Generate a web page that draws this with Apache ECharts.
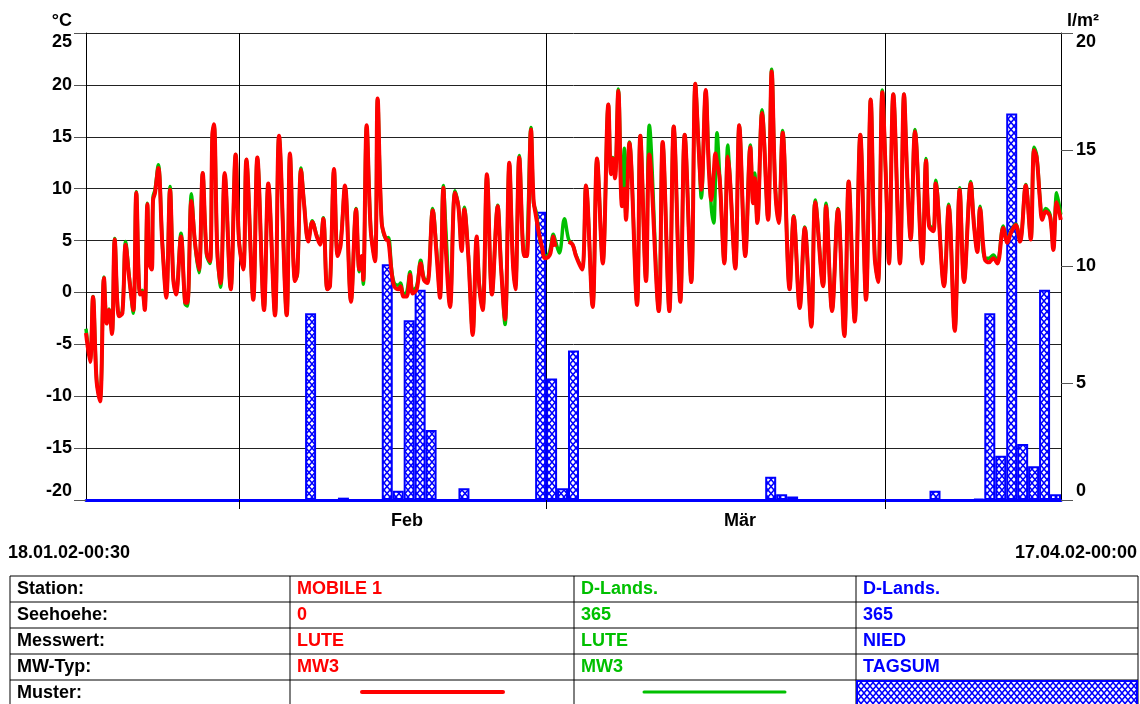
<!DOCTYPE html>
<html><head><meta charset="utf-8">
<script src="https://cdn.jsdelivr.net/npm/echarts@6/dist/echarts.min.js"></script>
<style>html,body{margin:0;padding:0;background:#fff}#c{width:1140px;height:704px}</style>
</head><body><div id="c"></div><script>
// ---- data (x = days since 18.01.02-00:30) ----
const startLabel = '18.01.02-00:30';
const endLabel = '17.04.02-00:00';
const tempDays = [0.00,0.37,0.64,0.97,1.28,1.64,1.89,2.10,2.37,2.62,3.01,3.32,3.62,3.93,4.32,4.59,4.93,5.14,5.36,5.60,5.78,6.00,6.12,6.30,6.60,6.96,7.33,7.67,7.97,8.22,8.67,9.04,9.25,9.62,9.95,10.31,10.65,11.01,11.32,11.53,11.68,11.99,12.29,12.66,13.21,13.66,13.97,14.36,14.64,15.27,15.64,16.25,16.64,17.25,17.62,18.32,18.62,19.08,19.29,19.63,19.90,20.29,20.66,21.06,21.36,21.66,22.03,22.27,22.64,22.97,23.25,23.64,24.19,24.65,24.95,25.17,25.31,25.62,25.99,26.38,26.62,26.99,27.39,27.60,27.90,28.14,28.51,28.72,28.97,29.27,29.58,29.82,30.19,30.55,30.85,31.16,31.65,32.01,32.31,32.62,32.85,33.23,33.68,33.99,34.29,34.53,34.90,35.30,35.66,35.90,36.21,36.60,37.06,37.58,37.88,38.25,38.64,38.95,39.19,39.55,40.01,40.23,40.62,40.85,41.08,41.38,41.60,41.90,42.20,42.40,42.66,42.84,43.21,43.67,44.06,44.42,44.73,45.28,45.64,46.25,46.65,47.17,47.68,47.92,48.08,48.29,48.59,48.93,49.14,49.29,49.60,50.30,50.60,51.12,51.42,52.28,52.64,53.25,53.65,54.25,54.65,55.25,55.62,55.93,56.17,56.57,56.84,57.08,57.30,57.45,57.60,57.85,58.27,58.58,58.76,59.27,59.63,60.18,60.64,60.89,61.04,61.28,61.71,62.26,62.59,62.92,63.23,63.59,64.23,64.60,65.15,65.61,66.21,66.57,67.28,67.55,68.10,68.64,69.22,69.62,70.17,70.68,71.20,71.63,71.99,72.30,72.69,73.00,73.30,73.69,74.30,74.67,74.97,75.28,75.67,76.34,76.68,76.95,77.35,77.56,78.32,78.75,79.30,79.75,80.15,80.76,81.06,81.36,81.61,82.04,82.43,82.82,83.19,83.73,84.10,84.41,84.86,85.26,85.78,86.24,86.54,86.78,87.08,87.29,87.60,88.00,88.30,88.61,88.98];
const mobileTemps = [-3.9,-6.7,-0.45,-8.6,-10.5,1.4,-3.0,-1.7,-4.0,5.1,-2.3,-2.0,4.6,1.5,-1.7,9.6,-0.2,0.0,-1.7,8.5,2.8,2.2,8.9,9.6,12.0,4.8,-0.5,9.9,1.2,-0.2,5.4,-0.9,-1.0,8.8,4.8,2.2,11.5,3.8,3.0,15.2,16.2,3.8,0.9,11.5,0.3,13.3,4.9,2.2,12.8,-0.7,13.0,-1.7,10.5,-2.2,15.1,-2.2,13.4,1.1,1.9,11.8,8.6,4.9,6.8,5.4,4.6,7.1,0.3,0.6,11.9,3.5,4.6,10.3,-0.9,8.0,2.2,3.5,1.2,16.1,6.0,3.0,18.7,6.7,5.1,5.0,1.9,0.6,0.3,0.6,-0.4,-0.4,1.7,-0.1,0.3,2.8,1.2,0.9,7.9,3.5,-0.5,10.1,4.0,-1.4,9.6,8.3,4.0,8.0,3.5,-4.1,5.4,0.6,-1.7,11.4,-0.2,8.3,2.5,-2.6,12.5,3.2,0.3,13.0,3.5,3.5,15.7,9.0,7.3,5.5,4.5,3.3,3.4,3.8,5.4,4.4,null,null,4.9,4.6,3.5,2.2,10.3,-1.4,12.9,2.8,18.1,11.4,12.9,11.0,19.4,8.3,10.0,7.0,14.4,-1.2,15.1,1.1,13.3,-1.8,14.5,-1.8,16.0,-0.9,15.2,1.0,20.1,13.8,9.9,19.5,12.2,8.9,11.5,13.4,12.5,10.9,2.8,13.1,11.3,2.3,16.1,3.5,14.0,8.6,11.0,6.7,17.3,7.0,21.3,9.9,6.7,15.4,0.3,7.3,-1.5,6.2,-3.3,8.7,0.6,8.3,-1.8,8.0,-4.2,10.7,-2.8,15.2,-0.7,18.6,3.5,1.0,19.3,11.5,2.8,19.1,2.8,19.1,10.9,5.1,15.5,2.8,12.7,6.4,5.9,10.5,0.6,8.3,-3.7,9.9,1.0,10.5,6.4,3.9,8.1,3.2,2.9,3.3,2.8,6.2,4.8,5.7,6.5,4.9,10.3,5.1,13.7,13.0,8.9,7.0,7.8,7.3,4.1,8.7,7.0];
const landsTemps = [-3.5,-6.5,-0.4,-8.4,-10.3,1.5,-2.8,-1.6,-3.9,5.2,-2.2,-1.8,4.9,1.7,-2.0,9.7,-0.1,0.2,-1.5,8.6,3.0,2.4,9.2,9.9,12.3,4.9,-0.3,10.2,1.4,-0.1,5.7,-1.1,-1.3,9.5,4.7,1.9,11.5,3.6,2.8,15.0,16.1,3.9,0.5,11.4,0.3,13.3,5.0,2.3,12.8,-0.6,13.0,-1.6,10.4,-2.1,15.0,-2.1,13.3,1.2,1.7,12.0,8.7,5.0,6.9,5.5,4.7,7.2,0.3,0.7,11.8,3.6,4.9,10.2,-0.8,8.1,2.0,3.3,0.8,16.0,6.2,3.1,18.6,6.8,5.2,5.3,2.2,0.9,0.7,0.9,-0.1,0.0,2.0,0.2,0.6,3.1,1.4,1.1,8.1,4.0,-0.3,10.3,6.0,-1.2,9.8,8.4,4.3,8.2,3.6,-3.9,5.3,0.8,-1.6,11.3,-0.1,8.4,2.8,-3.1,12.4,3.6,0.5,13.2,3.5,3.6,15.9,8.6,7.8,5.4,4.4,3.5,3.6,4.3,5.6,5.0,3.8,7.1,5.1,4.6,3.6,2.3,10.3,-1.3,12.9,2.9,18.1,11.8,13.0,11.4,19.6,8.6,13.9,7.4,14.5,-1.1,15.1,1.2,16.1,-1.7,14.4,-1.7,16.0,-0.8,15.2,1.1,20.1,14.0,9.1,19.4,13.0,8.2,6.7,10.5,15.4,11.0,2.9,14.2,11.5,2.4,16.1,3.6,14.2,8.8,11.5,6.8,17.6,7.1,21.5,10.1,6.9,15.6,0.4,7.4,-1.4,6.3,-3.2,8.9,0.7,8.6,-1.7,8.1,-4.1,10.7,-2.7,15.2,-0.6,18.6,3.7,1.1,19.5,11.6,2.9,19.1,2.9,19.1,11.0,5.2,15.7,2.9,12.9,6.6,6.1,10.8,0.7,8.5,-3.6,10.1,1.1,10.7,6.6,4.0,8.3,3.3,3.3,3.6,3.0,6.4,5.0,5.8,6.6,5.0,10.4,5.2,14.0,13.2,9.1,7.3,8.1,7.5,4.3,9.6,7.5];
const precipDays = [20,23,27,28,29,30,31,34,41,42,43,44,62,63,64,77,81,82,83,84,85,86,87,88];
const precipValues = [8.0,0.1,10.1,0.4,7.7,9.0,3.0,0.5,12.35,5.2,0.5,6.4,1.0,0.25,0.15,0.4,0.05,8.0,1.9,16.55,2.4,1.45,9.0,0.25];
const monthStarts = [14, 42, 73];
const monthLabelDays = [29.3, 59.7];
const monthNames = ['Feb', 'Mär'];
const tableRows = [
  ['Station:', 'MOBILE 1', 'D-Lands.', 'D-Lands.'],
  ['Seehoehe:', '0', '365', '365'],
  ['Messwert:', 'LUTE', 'LUTE', 'NIED'],
  ['MW-Typ:', 'MW3', 'MW3', 'TAGSUM'],
  ['Muster:', '', '', '']
];

const RED = '#ff0000', GREEN = '#00c000', BLUE = '#0000ff';
const FONT = '"Liberation Sans", Arial, sans-serif';
const FS = 18;

function hatchCanvas() {
  const w = 6, h = 7;
  const c = document.createElement('canvas');
  c.width = w; c.height = h;
  const g = c.getContext('2d');
  g.fillStyle = '#ffffff'; g.fillRect(0, 0, w, h);
  g.strokeStyle = BLUE; g.lineWidth = 1.5;
  g.beginPath();
  g.moveTo(-w / 6, -h / 6); g.lineTo(w + w / 6, h + h / 6);
  g.moveTo(w + w / 6, -h / 6); g.lineTo(-w / 6, h + h / 6);
  g.stroke();
  return c;
}
const hatch = { image: hatchCanvas(), repeat: 'repeat' };

const zip = (xs, ys) => xs.map((x, i) => [x, ys[i]]);

// ---- table graphics ----
const colX = [10, 290, 574, 856, 1138];
const rowY = [576, 602, 628, 654, 680, 706];
const colColors = ['#000000', RED, GREEN, BLUE];
const graphics = [];
for (let r = 0; r < 5; r++) {
  graphics.push({ type: 'line', shape: { x1: colX[0], y1: rowY[r], x2: colX[4], y2: rowY[r] }, style: { stroke: '#000', lineWidth: 1 } });
}
colX.forEach(x => graphics.push({ type: 'line', shape: { x1: x, y1: rowY[0], x2: x, y2: 704 }, style: { stroke: '#000', lineWidth: 1 } }));
tableRows.forEach((row, r) => {
  row.forEach((txt, c) => {
    if (!txt) return;
    graphics.push({ type: 'text', x: colX[c] + 7, y: (rowY[r] + rowY[r + 1]) / 2 + 0.5,
      style: { text: txt, fill: colColors[c], font: 'bold ' + FS + 'px ' + FONT, align: 'left', verticalAlign: 'middle' } });
  });
});
const musterY = (rowY[4] + rowY[5]) / 2 - 1;
graphics.push({ type: 'line', shape: { x1: 362, y1: musterY, x2: 503, y2: musterY }, style: { stroke: RED, lineWidth: 4, lineCap: 'round' } });
graphics.push({ type: 'line', shape: { x1: 644, y1: musterY, x2: 785, y2: musterY }, style: { stroke: GREEN, lineWidth: 3, lineCap: 'round' } });
graphics.push({ type: 'rect', shape: { x: colX[3] + 1, y: rowY[4] + 1, width: colX[4] - colX[3] - 2, height: 30 }, style: { fill: hatch, stroke: BLUE, lineWidth: 2 } });
graphics.push({ type: 'text', x: 8, y: 553, style: { text: startLabel, fill: '#000', font: 'bold ' + FS + 'px ' + FONT, align: 'left', verticalAlign: 'middle' } });
graphics.push({ type: 'text', x: 1137, y: 553, style: { text: endLabel, fill: '#000', font: 'bold ' + FS + 'px ' + FONT, align: 'right', verticalAlign: 'middle' } });

const labelStyle = { color: '#000', fontWeight: 'bold', fontSize: FS, fontFamily: FONT };

const chart = echarts.init(document.getElementById('c'), null, { renderer: 'canvas' });
chart.setOption({
  animation: false,
  backgroundColor: '#fff',
  grid: { left: 86, right: 79, top: 33, bottom: 204, containLabel: false },
  xAxis: {
    type: 'value', min: 0, max: 89,
    axisLine: { show: true, onZero: false, lineStyle: { color: BLUE, width: 3 } },
    axisTick: { show: true, customValues: monthStarts, length: 9, lineStyle: { color: '#000', width: 1 } },
    axisLabel: Object.assign({ show: true, customValues: monthLabelDays, margin: 12,
      formatter: v => { const i = monthLabelDays.findIndex(p => Math.abs(p - v) < 1e-6); return i >= 0 ? monthNames[i] : ''; } }, labelStyle),
    splitLine: { show: true, lineStyle: { color: '#000', width: 1 } }
  },
  yAxis: [
    {
      type: 'value', position: 'left', min: -20, max: 25, interval: 5,
      name: '°C', nameLocation: 'end', nameGap: 3,
      nameTextStyle: Object.assign({ align: 'right', verticalAlign: 'bottom', padding: [0, 14, 0, 0] }, labelStyle),
      axisLine: { show: true, lineStyle: { color: '#000', width: 1 } },
      axisTick: { show: true, length: 12, lineStyle: { color: '#555', width: 1 } },
      axisLabel: Object.assign({ margin: 14, verticalAlignMinLabel: 'bottom', verticalAlignMaxLabel: 'top' }, labelStyle),
      splitLine: { show: true, lineStyle: { color: '#222', width: 1 } }
    },
    {
      type: 'value', position: 'right', min: 0, max: 20, interval: 5,
      name: 'l/m²', nameLocation: 'end', nameGap: 3,
      nameTextStyle: Object.assign({ align: 'left', verticalAlign: 'bottom', padding: [0, 0, 0, 6] }, labelStyle),
      axisLine: { show: true, lineStyle: { color: '#000', width: 1 } },
      axisTick: { show: true, length: 12, lineStyle: { color: '#555', width: 1 } },
      axisLabel: Object.assign({ margin: 15, verticalAlignMinLabel: 'bottom', verticalAlignMaxLabel: 'top' }, labelStyle),
      splitLine: { show: false }
    }
  ],
  series: [
    {
      name: 'NIED TAGSUM', type: 'bar', yAxisIndex: 1, barWidth: 11, z: 2,
      data: precipDays.map((d, i) => [d + 0.5, precipValues[i]]),
      itemStyle: { color: hatch, borderColor: BLUE, borderWidth: 2 }
    },
    {
      name: 'D-Lands. LUTE', type: 'line', yAxisIndex: 0, z: 3, smooth: 0.35,
      showSymbol: false, symbol: 'none', connectNulls: false,
      data: zip(tempDays, landsTemps),
      lineStyle: { color: GREEN, width: 3.5 }
    },
    {
      name: 'MOBILE 1 LUTE', type: 'line', yAxisIndex: 0, z: 4, smooth: 0.35,
      showSymbol: false, symbol: 'none', connectNulls: false,
      data: zip(tempDays, mobileTemps),
      lineStyle: { color: RED, width: 4 }
    }
  ],
  graphic: graphics
});
</script></body></html>
